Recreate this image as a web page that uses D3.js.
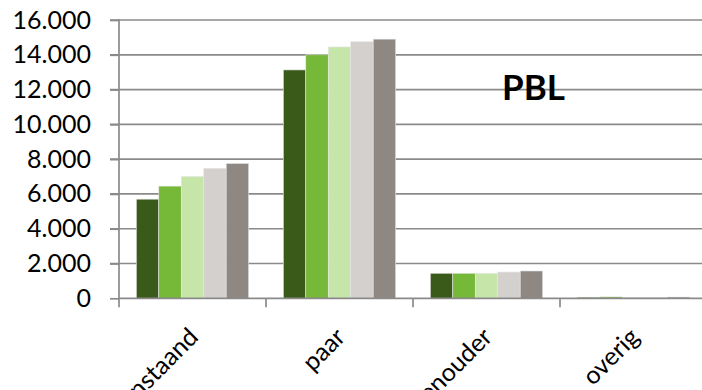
<!DOCTYPE html>
<html><head><meta charset="utf-8">
<script src="https://cdn.jsdelivr.net/npm/d3@7"></script>
<style>html,body{margin:0;padding:0;background:#fff;overflow:hidden}</style>
</head><body>
<svg id="c" width="702" height="390"></svg>
<script>
const categories = ["alleenstaand", "paar", "eenouder", "overig"];
const series = ["s1", "s2", "s3", "s4", "s5"];
const s1 = [5700, 13130, 1440, 60];
const s2 = [6450, 14000, 1440, 80];
const s3 = [7000, 14450, 1440, 50];
const s4 = [7470, 14750, 1510, 40];
const s5 = [7750, 14900, 1570, 70];
const yTicks = [0, 2000, 4000, 6000, 8000, 10000, 12000, 14000, 16000];
const colors = ["#3a5a1a", "#76b837", "#c6e5a8", "#d4d0cd", "#8f8781"];
const values = [s1, s2, s3, s4, s5];

(function () {
const svg = d3.select("#c");
const mLeft = 119, mRight = 707, mTop = 20, mBottom = 298.3;
const x = d3.scaleBand().domain(categories).range([mLeft, mRight]).paddingInner(0).paddingOuter(0);
const xs = d3.scaleBand().domain(series).range([0, x.bandwidth()]).paddingInner(0).paddingOuter(0.77);
const y = d3.scaleLinear().domain([0, 16000]).range([mBottom, mTop]);
const fmt = v => d3.format(",")(v).replace(/,/g, ".");

// gridlines
svg.append("g").selectAll("line").data(yTicks.slice(1)).join("line")
  .attr("x1", mLeft - 9).attr("x2", 702).attr("y1", d => y(d)).attr("y2", d => y(d))
  .attr("stroke", "#8a8a8a").attr("stroke-width", 1.7);

// bars
const g = svg.append("g");
categories.forEach((c, ci) => {
  series.forEach((s, si) => {
    const v = values[si][ci];
    g.append("rect")
      .attr("x", x(c) + xs(s)).attr("width", xs.bandwidth())
      .attr("y", y(v)).attr("height", mBottom - y(v))
      .attr("fill", colors[si]).attr("stroke", "#e6e6e6").attr("stroke-width", 0.6);
  });
});

// y axis
const ya = d3.axisLeft(y).tickValues(yTicks).tickFormat(fmt).tickSize(9).tickPadding(19);
const yg = svg.append("g").attr("transform", `translate(${mLeft},0)`).call(ya);
yg.select(".domain").remove();
yg.selectAll(".tick line").attr("stroke", "#8a8a8a").attr("stroke-width", 1.7);
yg.selectAll("text").attr("font-family", "Lato").attr("font-size", 25).attr("fill", "#000");
svg.append("line").attr("x1", mLeft).attr("x2", mLeft).attr("y1", mTop - 1).attr("y2", mBottom + 9)
  .attr("stroke", "#8a8a8a").attr("stroke-width", 1.7);

// x axis
svg.append("line").attr("x1", mLeft).attr("x2", 702).attr("y1", mBottom).attr("y2", mBottom)
  .attr("stroke", "#8a8a8a").attr("stroke-width", 1.7);
const xg = svg.append("g");
categories.forEach(c => {
  xg.append("line").attr("x1", x(c) + x.bandwidth()).attr("x2", x(c) + x.bandwidth())
    .attr("y1", mBottom).attr("y2", mBottom + 9).attr("stroke", "#8a8a8a").attr("stroke-width", 1.7);
  const cx = x(c) + x.bandwidth() / 2;
  xg.append("text").text(c)
    .attr("transform", `translate(${cx - 6},${mBottom + 27}) rotate(-45)`)
    .attr("text-anchor", "end").attr("dy", "0.75em")
    .attr("font-family", "Lato").attr("font-size", 25).attr("fill", "#000");
});

svg.append("text").text("PBL").attr("x", 502).attr("y", 100)
  .attr("font-family", "Lato").attr("font-weight", "bold").attr("font-size", 35).attr("fill", "#000");
})();
</script>
</body></html>
